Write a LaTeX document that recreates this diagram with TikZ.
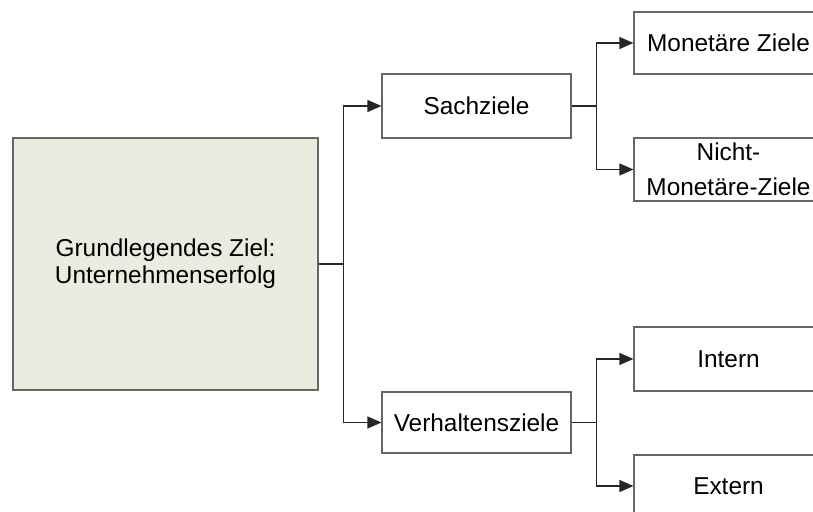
\documentclass[tikz,border=0pt]{standalone}
\usepackage{fontspec}
\setmainfont{Liberation Sans}
\usetikzlibrary{arrows.meta}
\definecolor{zielgruen}{HTML}{E9EDE0}
\definecolor{rahmen}{HTML}{666666}

\begin{document}
\begin{tikzpicture}[x=0.5pt,y=-0.5pt,font=\fontsize{12.2}{13.5}\selectfont,
    ziel/.style={draw=rahmen,line width=0.6pt,minimum width=94.5pt,minimum height=32pt,inner sep=0pt,align=center},
    linie/.style={line width=0.6pt,draw=black!85},
    pfeil/.style={linie,-{Triangle[length=7pt,width=6pt]}}]
      \clip (0,0) rectangle (813,512);
      % linke Seite
      \node[ziel,fill=zielgruen,minimum width=152.5pt,minimum height=126pt] (haupt) at (165.5,264) {Grundlegendes Ziel:\\Unternehmenserfolg};
      \node[ziel] (sach) at (476.5,106) {Sachziele};
      \node[ziel,minimum height=30.5pt] (verh) at (476.5,422.5) {Verhaltensziele};
      % rechte Spalte
      \node[ziel,minimum height=31pt] (mon) at (728.5,43) {Monetäre Ziele};
      \node[ziel,minimum height=31.5pt,font=\fontsize{12.2}{17.5}\selectfont] (nmon) at (728.5,169.5) {Nicht-\\Monetäre-Ziele};
      \node[ziel] (intern) at (728.5,359) {Intern};
      \node[ziel,minimum height=31pt] (extern) at (728.5,486) {Extern};
      % Verzweigungen
      \coordinate (gab1) at ([xshift=12.5pt]haupt.east);
      \coordinate (gab2) at ([xshift=12.5pt]sach.east);
      \coordinate (gab3) at ([xshift=12.5pt]verh.east);
      \draw[linie] (haupt.east) -- (gab1);
      \draw[pfeil] (gab1) |- (sach.west);
      \draw[pfeil] (gab1) |- (verh.west);
      \draw[linie] (sach.east) -- (gab2);
      \draw[pfeil] (gab2) |- (mon.west);
      \draw[pfeil] (gab2) |- (nmon.west);
      \draw[linie] (verh.east) -- (gab3);
      \draw[pfeil] (gab3) |- (intern.west);
      \draw[pfeil] (gab3) |- (extern.west);
    \end{tikzpicture}
\end{document}
